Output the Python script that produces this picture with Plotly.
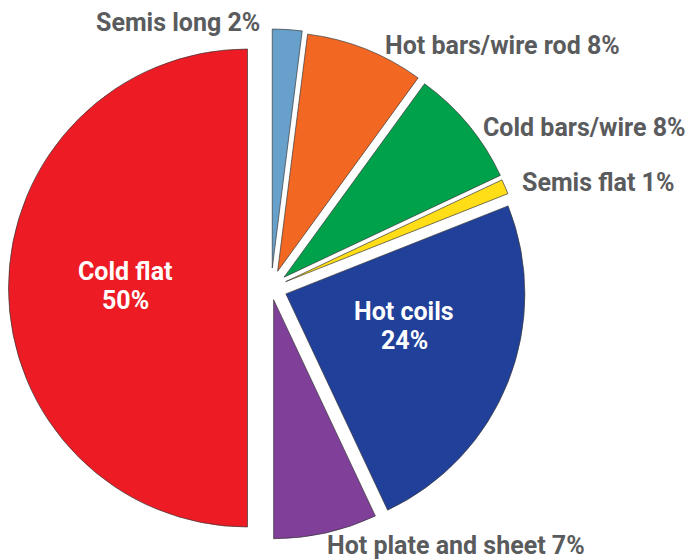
import plotly.graph_objects as go

# ---- data ----
categories = ["Semis long", "Hot bars/wire rod", "Cold bars/wire", "Semis flat",
              "Hot coils", "Hot plate and sheet", "Cold flat"]
shares = [2, 8, 8, 1, 24, 7, 50]

# ---- styles ----
colors = ["#67A0CA", "#F26722", "#00A14B", "#FFDD17", "#21409A", "#80409A", "#ED1C24"]
W, H = 692, 559
R = 239                       # target radius in px
cx, cy = 271, 288             # target pie centre in px
pull_px = [20, 18, 17, 16, 16, 12, 23.5]
pulls = [p / R for p in pull_px]
GRAY = "#5A5B5D"
FONT = "Roboto"
FSIZE = 25

# label placement (pixel positions): x, y, xanchor, colour, inside
label_pos = {
    "Semis long": (262, 22, "right", GRAY, False),
    "Hot bars/wire rod": (383, 46, "left", GRAY, False),
    "Cold bars/wire": (481, 127, "left", GRAY, False),
    "Semis flat": (520, 182, "left", GRAY, False),
    "Hot coils": (404, 311, "center", "white", True),
    "Hot plate and sheet": (325, 545, "left", GRAY, False),
    "Cold flat": (125, 271, "center", "white", True),
}
LINE_GAP = 29

box = R * (2 + 2 * max(pulls))
dom_x = [(cx - box / 2) / W, (cx + box / 2) / W]
dom_y = [1 - (cy + box / 2) / H, 1 - (cy - box / 2) / H]

fig = go.Figure(go.Pie(
    labels=categories,
    values=shares,
    sort=False,
    direction="clockwise",
    rotation=0,
    pull=pulls,
    marker=dict(colors=colors, line=dict(color="#3a3a3a", width=0.7)),
    textinfo="none",
    hoverinfo="label+percent",
    domain=dict(x=dom_x, y=dom_y),
))

annotations = []
for cat, val in zip(categories, shares):
    x, y, anchor, col, inside = label_pos[cat]
    lines = [(cat, y), (f"{val}%", y + LINE_GAP)] if inside else [(f"{cat} {val}%", y)]
    for txt, yy in lines:
        annotations.append(dict(
            x=x / W, y=1 - yy / H, xref="paper", yref="paper",
            xanchor=anchor, yanchor="middle", text=f"<b>{txt}</b>", showarrow=False,
            font=dict(family=FONT, size=FSIZE, color=col),
        ))

fig.update_layout(
    width=W, height=H,
    margin=dict(l=0, r=0, t=0, b=0),
    paper_bgcolor="white", plot_bgcolor="white",
    showlegend=False,
    annotations=annotations,
)

fig.write_html("out.html", config={"displayModeBar": False},
               post_script="document.body.style.margin='0';")
